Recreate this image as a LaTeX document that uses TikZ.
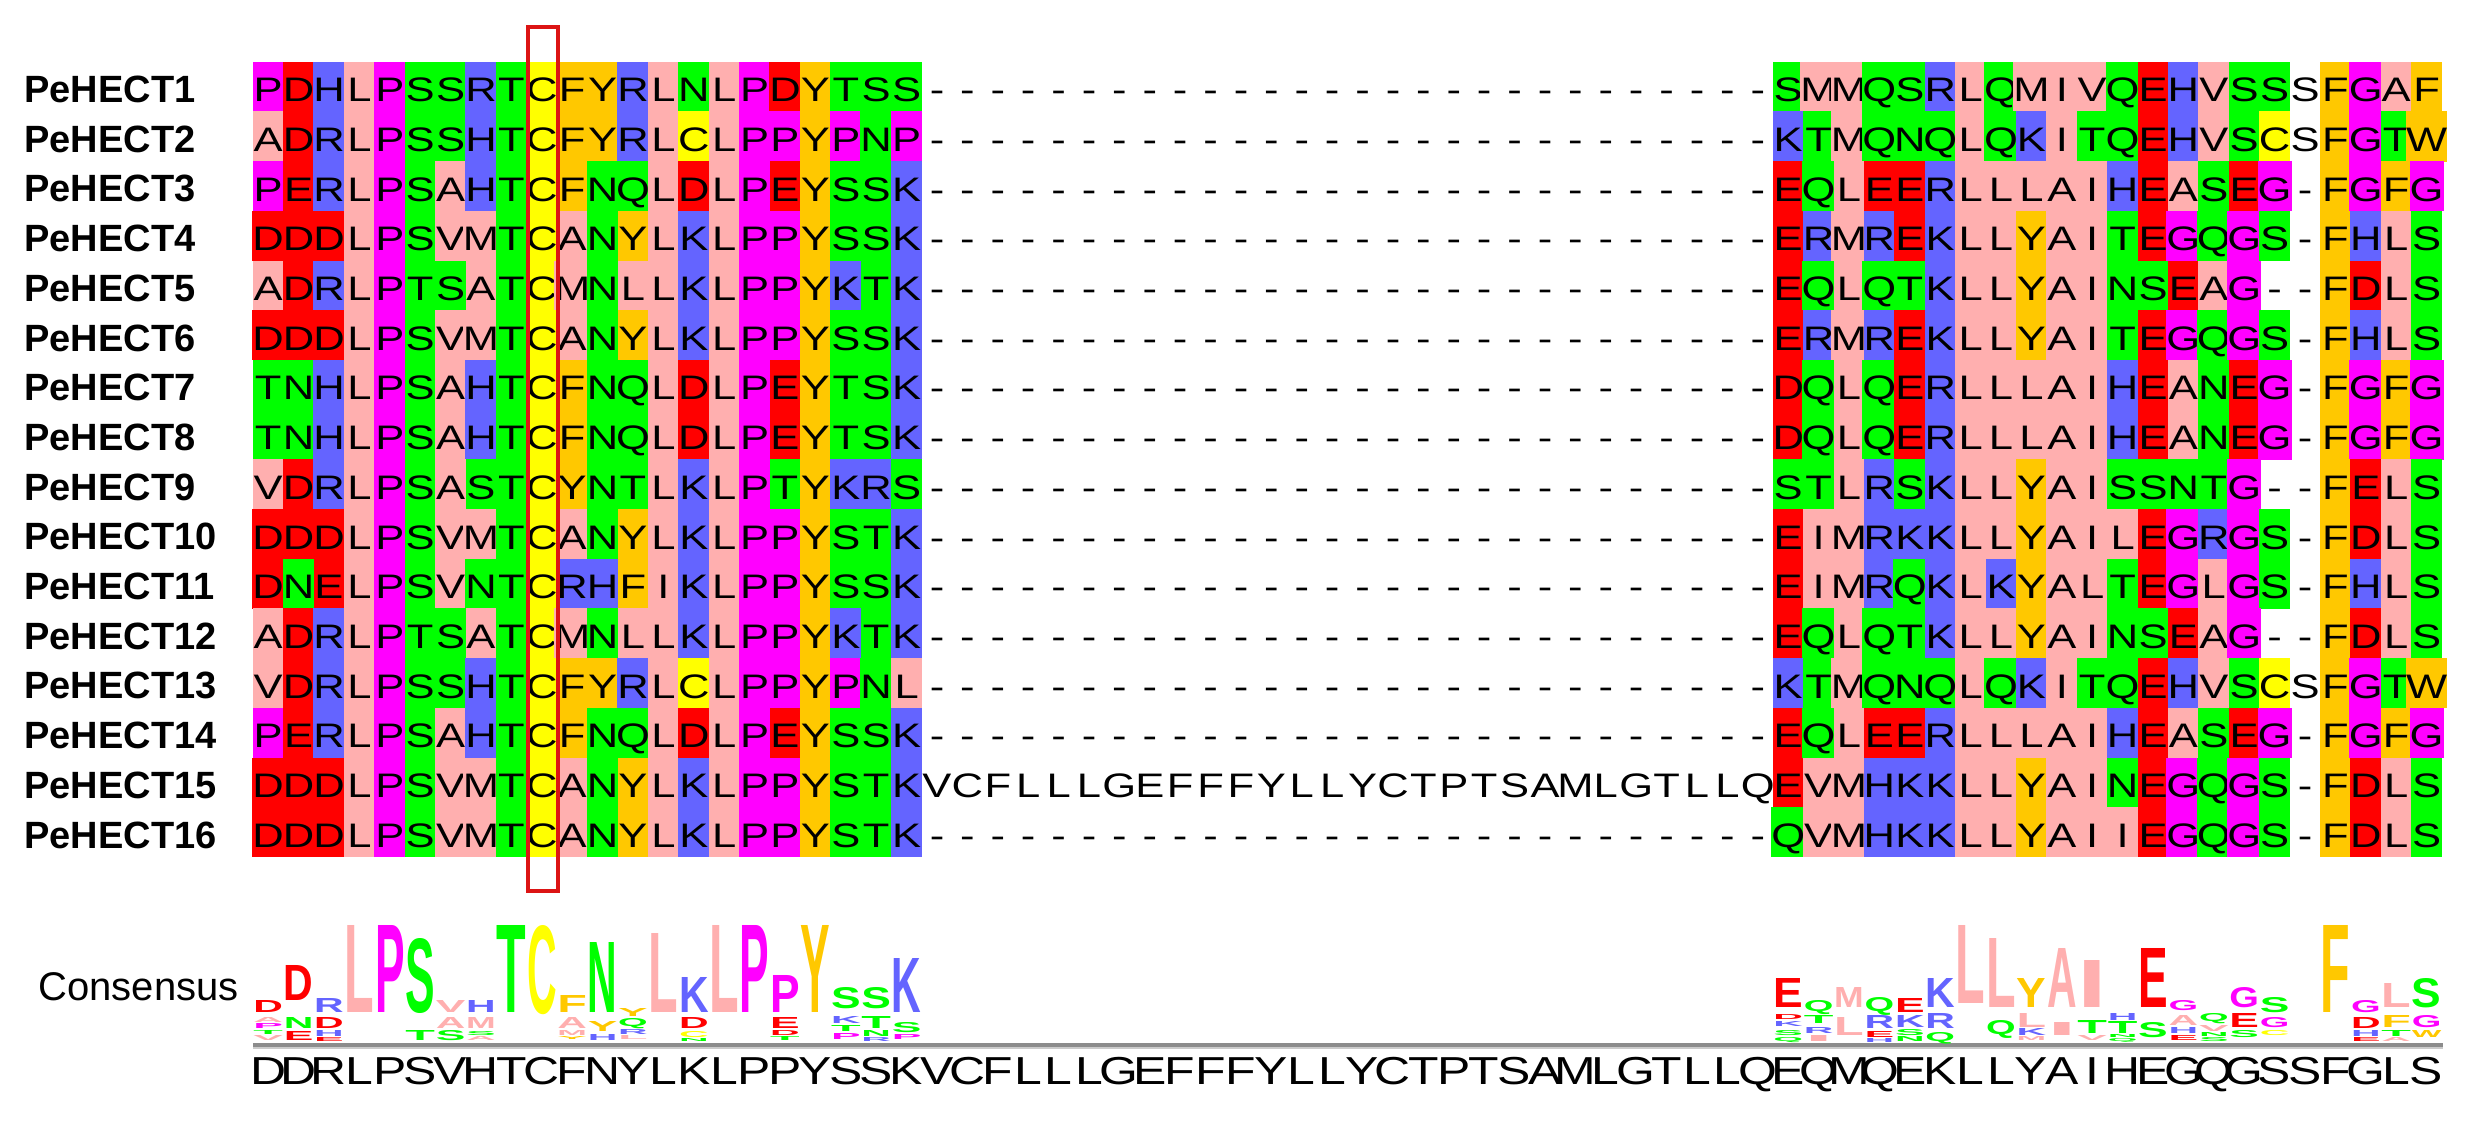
\documentclass[tikz,border=0pt]{standalone}
\usepackage{fontspec}
\setmainfont{Liberation Sans}
\usepackage{graphicx}
\definecolor{zpink}{HTML}{FFAFAF}
\definecolor{zorange}{HTML}{FFC800}
\definecolor{zblue}{HTML}{6464FF}
\definecolor{zred}{HTML}{FF0000}
\definecolor{zgreen}{HTML}{00FF00}
\definecolor{zmag}{HTML}{FF00FF}
\definecolor{zyel}{HTML}{FFFF00}
\definecolor{boxred}{HTML}{DC1414}
\definecolor{lineg}{HTML}{8C8C8C}
\colorlet{aaA}{zpink}\colorlet{aaI}{zpink}\colorlet{aaL}{zpink}\colorlet{aaM}{zpink}\colorlet{aaV}{zpink}
\colorlet{aaF}{zorange}\colorlet{aaW}{zorange}\colorlet{aaY}{zorange}
\colorlet{aaK}{zblue}\colorlet{aaR}{zblue}\colorlet{aaH}{zblue}
\colorlet{aaD}{zred}\colorlet{aaE}{zred}
\colorlet{aaS}{zgreen}\colorlet{aaT}{zgreen}\colorlet{aaN}{zgreen}\colorlet{aaQ}{zgreen}
\colorlet{aaP}{zmag}\colorlet{aaG}{zmag}
\colorlet{aaC}{zyel}
\newcount\cc \newcount\lgcount \newdimen\lgh
\def\currow{1}
\def\seqloop#1{\ifx#1\relax\else\seqcell{#1}\global\advance\cc by 1\relax\expandafter\seqloop\fi}
\def\seqcell#1{%
  \uppercase{\def\tmpL{#1}}%
  \ifnum`#1=45 \def\tmpfill{none}\else\ifnum`#1>96 \def\tmpfill{none}\else\def\tmpfill{aa#1}\fi\fi
  \node[cellbox,fill=\tmpfill] (s\currow-\the\cc) at ({253+(\the\cc+0.5)*30.4},{62+(\currow-0.5)*49.7}) {\scalebox{1.28}[1]{\tmpL}};}
\def\Dd{----------------------------}
\newcommand\seqrow[2]{\def\currow{#1}\global\cc=0 \edef\tmpS{#2}\expandafter\seqloop\tmpS\relax}
\def\consloop#1{\ifx#1\relax\else\conscell{#1}\global\advance\cc by 1\relax\expandafter\consloop\fi}
\def\conscell#1{\node[consbox] (cons-\the\cc) at ({253+(\the\cc+0.5)*30.4},1069.15) {\scalebox{1.28}[1]{#1}};}
\newcommand\lgl[6][14.8pt]{%
  \global\advance\lgcount by 1
  \global\lgh=\dimexpr 0.5pt*(#6-#5)\relax
  \node[logobox] (lg\the\lgcount) at ({253+(#2+0.5)*30.4},#5) {\resizebox{#1}{\lgh}{\textcolor{#4}{#3}}};}
\begin{document}
\begin{tikzpicture}[x=0.5pt,y=-0.5pt,
  cellbox/.style={inner sep=0pt,minimum width=15.5pt,minimum height=25.1pt,text height=15pt,text depth=0.15pt,font=\fontsize{17}{17}\selectfont},
  consbox/.style={inner sep=0pt,text height=15pt,text depth=0.15pt,font=\fontsize{19.5}{19.5}\selectfont},
  namelab/.style={inner sep=0pt,anchor=base west,font=\bfseries\fontsize{19}{19}\selectfont},
  logobox/.style={inner sep=0pt,anchor=north,font=\bfseries},
  redbox/.style={draw=boxred,line width=2pt},
  baseln/.style={line width=2pt,draw=lineg}]
\useasboundingbox (0,0) rectangle (2469,1120);
\seqrow{1}{PDHLPSSRTCFYRLNLPDYTSS\Dd SMMQSRLQMIVQEHVSSsFGAF}
\seqrow{2}{ADRLPSSHTCFYRLCLPPYPNP\Dd KTMQNQLQKITQEHVSCsFGTW}
\seqrow{3}{PERLPSAHTCFNQLDLPEYSSK\Dd EQLEERLLLAIHEASEG-FGFG}
\seqrow{4}{DDDLPSVMTCANYLKLPPYSSK\Dd ERMREKLLYAITEGQGS-FHLS}
\seqrow{5}{ADRLPTSATCMNLLKLPPYKTK\Dd EQLQTKLLYAINSEAG--FDLS}
\seqrow{6}{DDDLPSVMTCANYLKLPPYSSK\Dd ERMREKLLYAITEGQGS-FHLS}
\seqrow{7}{TNHLPSAHTCFNQLDLPEYTSK\Dd DQLQERLLLAIHEANEG-FGFG}
\seqrow{8}{TNHLPSAHTCFNQLDLPEYTSK\Dd DQLQERLLLAIHEANEG-FGFG}
\seqrow{9}{VDRLPSASTCYNTLKLPTYKRS\Dd STLRSKLLYAISSNTG--FELS}
\seqrow{10}{DDDLPSVMTCANYLKLPPYSTK\Dd EIMRKKLLYAILEGRGS-FDLS}
\seqrow{11}{DNELPSVNTCRHFIKLPPYSSK\Dd EIMRQKLKYALTEGLGS-FHLS}
\seqrow{12}{ADRLPTSATCMNLLKLPPYKTK\Dd EQLQTKLLYAINSEAG--FDLS}
\seqrow{13}{VDRLPSSHTCFYRLCLPPYPNL\Dd KTMQNQLQKITQEHVSCsFGTW}
\seqrow{14}{PERLPSAHTCFNQLDLPEYSSK\Dd EQLEERLLLAIHEASEG-FGFG}
\seqrow{15}{DDDLPSVMTCANYLKLPPYSTKvcflllgefffyllyctptsamlgtllqEVMHKKLLYAINEGQGS-FDLS}
\seqrow{16}{DDDLPSVMTCANYLKLPPYSTK\Dd QVMHKKLLYAIIEGQGS-FDLS}
\foreach \r in {1,...,16}{\node[namelab] (n\r) at (24,{62+(\r-1)*49.7+40.5}) {PeHECT\r};}
\draw[redbox] (528,27) rectangle (558,891);
\node[inner sep=0pt,anchor=base west,font=\fontsize{20}{20}\selectfont] (conslab) at (38,1000) {Consensus};
\coordinate (bl) at (253,1044.5);
\coordinate (br) at (2443,1044.5);
\draw[line width=3pt,draw=lineg!45] ([yshift=-0.6pt]bl) -- ([yshift=-0.6pt]br);
\draw[baseln] (bl) -- (br);
\global\cc=0 \consloop DDRLPSVHTCFNYLKLPPYSSKVCFLLLGEFFFYLLYCTPTSAMLGTLLQEQMQEKLLYAIHEGQGSSFGLS\relax
% logo left
\lgl{0}{D}{zred}{1000}{1012}
\lgl{0}{A}{zpink}{1017}{1022}
\lgl{0}{P}{zmag}{1023}{1028}
\lgl{0}{T}{zgreen}{1030}{1034}
\lgl{0}{V}{zpink}{1035}{1040}
\lgl{1}{D}{zred}{965}{1000}
\lgl{1}{N}{zgreen}{1017}{1028}
\lgl{1}{E}{zred}{1031}{1040}
\lgl{2}{R}{zblue}{998}{1012}
\lgl{2}{D}{zred}{1017}{1028}
\lgl{2}{H}{zblue}{1030}{1036}
\lgl{2}{E}{zred}{1037}{1041}
\lgl{3}{L}{zpink}{925}{1012}
\lgl{4}{P}{zmag}{925}{1012}
\lgl{5}{S}{zgreen}{938}{1012}
\lgl{5}{T}{zgreen}{1030}{1040}
\lgl{6}{V}{zpink}{1000}{1012}
\lgl{6}{A}{zpink}{1017}{1028}
\lgl{6}{S}{zgreen}{1030}{1040}
\lgl{7}{H}{zblue}{1000}{1012}
\lgl{7}{M}{zpink}{1017}{1028}
\lgl{7}{S}{zgreen}{1031}{1035}
\lgl{7}{A}{zpink}{1036}{1040}
\lgl{8}{T}{zgreen}{925}{1012}
\lgl{9}{C}{zyel}{925}{1013}
\lgl{10}{F}{zorange}{995}{1012}
\lgl{10}{A}{zpink}{1017}{1028}
\lgl{10}{M}{zpink}{1030}{1035}
\lgl{10}{Y}{zorange}{1036}{1039}
\lgl{11}{N}{zgreen}{942}{1012}
\lgl{11}{Y}{zorange}{1021}{1031}
\lgl{11}{H}{zblue}{1034}{1040}
\lgl{12}{Y}{zorange}{1008}{1016}
\lgl{12}{Q}{zgreen}{1018}{1026}
\lgl{12}{R}{zblue}{1029}{1034}
\lgl{12}{L}{zpink}{1035}{1039}
\lgl{13}{L}{zpink}{933}{1012}
\lgl{14}{K}{zblue}{977}{1012}
\lgl{14}{D}{zred}{1017}{1028}
\lgl{14}{C}{zyel}{1031}{1037}
\lgl{14}{N}{zgreen}{1038}{1041}
\lgl{15}{L}{zpink}{925}{1012}
\lgl{16}{P}{zmag}{925}{1012}
\lgl{17}{P}{zmag}{975}{1012}
\lgl{17}{E}{zred}{1017}{1028}
\lgl{17}{D}{zred}{1030}{1035}
\lgl{17}{T}{zgreen}{1036}{1040}
\lgl{18}{Y}{zorange}{925}{1012}
\lgl{19}{S}{zgreen}{987}{1008}
\lgl{19}{K}{zblue}{1016}{1023}
\lgl{19}{T}{zgreen}{1025}{1031}
\lgl{19}{P}{zmag}{1033}{1039}
\lgl{20}{S}{zgreen}{987}{1008}
\lgl{20}{T}{zgreen}{1016}{1028}
\lgl{20}{N}{zgreen}{1030}{1036}
\lgl{20}{R}{zblue}{1037}{1041}
\lgl{21}{K}{zblue}{958}{1012}
\lgl{21}{S}{zgreen}{1022}{1032}
\lgl{21}{P}{zmag}{1034}{1039}
% logo right
\lgl{50}{E}{zred}{978}{1007}
\lgl{50}{D}{zred}{1014}{1019}
\lgl{50}{K}{zblue}{1021}{1026}
\lgl{50}{S}{zgreen}{1030}{1035}
\lgl{50}{Q}{zgreen}{1037}{1041}
\lgl{51}{Q}{zgreen}{1000}{1011}
\lgl{51}{T}{zgreen}{1015}{1023}
\lgl{51}{R}{zblue}{1027}{1033}
\lgl{51}{I}{zpink}{1035}{1041}
\lgl{52}{M}{zpink}{987}{1007}
\lgl{52}{L}{zpink}{1017}{1035}
\lgl{53}{Q}{zgreen}{997}{1011}
\lgl{53}{R}{zblue}{1015}{1028}
\lgl{53}{E}{zred}{1031}{1037}
\lgl{53}{H}{zblue}{1038}{1042}
\lgl{54}{E}{zred}{998}{1012}
\lgl{54}{K}{zblue}{1015}{1027}
\lgl{54}{S}{zgreen}{1029}{1035}
\lgl{54}{N}{zgreen}{1036}{1041}
\lgl{55}{K}{zblue}{978}{1007}
\lgl{55}{R}{zblue}{1013}{1028}
\lgl{55}{Q}{zgreen}{1032}{1041}
\lgl{56}{L}{zpink}{925}{1003}
\lgl{57}{L}{zpink}{938}{1007}
\lgl{57}{Q}{zgreen}{1020}{1034}
\lgl{58}{Y}{zorange}{978}{1007}
\lgl{58}{L}{zpink}{1013}{1027}
\lgl{58}{K}{zblue}{1028}{1035}
\lgl{58}{M}{zpink}{1036}{1040}
\lgl{59}{A}{zpink}{948}{1007}
\lgl{59}{I}{zpink}{1022}{1035}
\lgl{60}{I}{zpink}{960}{1007}
\lgl{60}{T}{zgreen}{1020}{1033}
\lgl{60}{V}{zpink}{1035}{1040}
\lgl{61}{H}{zblue}{1013}{1020}
\lgl{61}{T}{zgreen}{1021}{1033}
\lgl{61}{N}{zgreen}{1034}{1037}
\lgl{61}{Q}{zgreen}{1038}{1041}
\lgl{62}{E}{zred}{948}{1007}
\lgl{62}{S}{zgreen}{1022}{1037}
\lgl{63}{G}{zmag}{1000}{1010}
\lgl{63}{A}{zpink}{1015}{1025}
\lgl{63}{H}{zblue}{1027}{1033}
\lgl{63}{E}{zred}{1035}{1040}
\lgl{64}{Q}{zgreen}{1013}{1021}
\lgl{64}{V}{zpink}{1025}{1031}
\lgl{64}{N}{zgreen}{1032}{1036}
\lgl{64}{S}{zgreen}{1037}{1041}
\lgl{65}{G}{zmag}{987}{1007}
\lgl{65}{E}{zred}{1013}{1027}
\lgl{65}{S}{zgreen}{1030}{1037}
\lgl{66}{S}{zgreen}{997}{1012}
\lgl{66}{G}{zmag}{1017}{1027}
\lgl{66}{C}{zyel}{1030}{1035}
\lgl{68}{F}{zorange}{925}{1012}
\lgl{69}{G}{zmag}{1000}{1012}
\lgl{69}{D}{zred}{1017}{1028}
\lgl{69}{H}{zblue}{1030}{1036}
\lgl{69}{E}{zred}{1037}{1041}
\lgl{70}{L}{zpink}{983}{1007}
\lgl{70}{F}{zorange}{1015}{1027}
\lgl{70}{T}{zgreen}{1030}{1036}
\lgl{70}{A}{zpink}{1037}{1041}
\lgl{71}{S}{zgreen}{978}{1007}
\lgl{71}{G}{zmag}{1015}{1027}
\lgl{71}{W}{zorange}{1030}{1037}
\end{tikzpicture}
\end{document}
